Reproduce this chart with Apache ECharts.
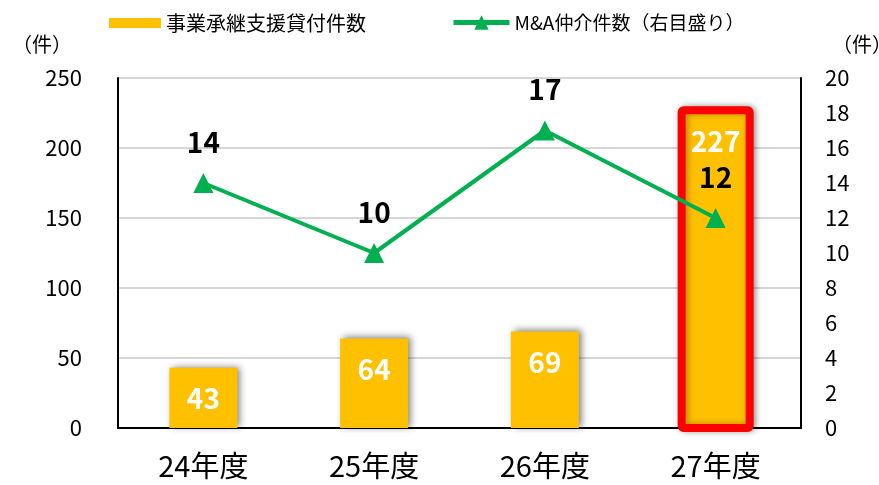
<!DOCTYPE html>
<html lang="ja">
<head>
    <meta charset="UTF-8">
    <title>事業承継支援貸付件数</title>
    <script src="https://cdn.jsdelivr.net/npm/echarts/dist/echarts.min.js"></script>
    <style>
        body { margin: 0; background: #fff; }
    </style>
</head>
<body>
<div id="chart1" style="width: 879px;height:485px;"></div>
<script type="text/javascript">
    var categories = ['24年度', '25年度', '26年度', '27年度'];
    var loanCounts = [43, 64, 69, 227];
    var maCounts = [14, 10, 17, 12];
    var barName = '事業承継支援貸付件数';
    var lineName = 'M&A仲介件数（右目盛り）';
    var highlightIndex = 3;

    var FONT = '"Noto Sans CJK JP", "Noto Sans", sans-serif';
    var BAR_W = 68;
    var chart1 = echarts.init(document.getElementById('chart1'));

    var option = {
        backgroundColor: '#fff',
        textStyle: { fontFamily: FONT },
        legend: [{
            data: [{ name: barName, icon: 'rect' }],
            left: 104,
            top: 8,
            itemWidth: 52,
            itemHeight: 10,
            textStyle: { fontSize: 20, color: '#000', fontFamily: FONT }
        }, {
            data: [{
                name: lineName,
                lineStyle: { width: 5, color: '#00b050' },
                itemStyle: { color: '#00b050' }
            }],
            left: 446,
            top: 8,
            itemWidth: 56,
            itemHeight: 18,
            lineStyle: { width: 5 },
            textStyle: { fontSize: 19, color: '#000', fontFamily: FONT }
        }],
        graphic: [{
            type: 'text', left: 12, top: 34,
            style: { text: '（件）', font: '20px ' + FONT, fill: '#000' }
        }, {
            type: 'text', left: 832, top: 34,
            style: { text: '（件）', font: '20px ' + FONT, fill: '#000' }
        }],
        grid: { left: 118, right: 78, top: 78, bottom: 57 },
        xAxis: {
            type: 'category',
            data: categories,
            axisTick: { show: false },
            axisLine: { lineStyle: { color: '#000', width: 2 } },
            axisLabel: { fontSize: 29, color: '#000', margin: 23, fontFamily: FONT }
        },
        yAxis: [{
            type: 'value',
            min: 0, max: 250, interval: 50,
            axisLine: { show: true, lineStyle: { color: '#000', width: 2 } },
            axisTick: { show: false },
            splitLine: { lineStyle: { color: '#c8c8c8', width: 1.5 } },
            axisLabel: { fontSize: 22, color: '#000', margin: 36, fontFamily: FONT }
        }, {
            type: 'value',
            min: 0, max: 20, interval: 2,
            axisLine: { show: true, lineStyle: { color: '#000', width: 2 } },
            axisTick: { show: false },
            splitLine: { show: false },
            axisLabel: { fontSize: 22, color: '#000', margin: 24, fontFamily: FONT }
        }],
        series: [{
            name: barName,
            type: 'bar',
            data: loanCounts,
            barWidth: BAR_W,
            itemStyle: {
                color: '#ffc000',
                shadowColor: 'rgba(0,0,0,0.5)',
                shadowBlur: 7,
                shadowOffsetX: 3,
                shadowOffsetY: -1
            },
            label: {
                show: true,
                position: 'insideTop',
                distance: 17,
                color: '#fff',
                fontSize: 28,
                fontWeight: 'bold',
                fontFamily: FONT
            },
            z: 2
        }, {
            // red frame round the highlighted bar
            type: 'custom',
            data: [[highlightIndex, loanCounts[highlightIndex]]],
            renderItem: function (params, api) {
                var top = api.coord([api.value(0), api.value(1)]);
                var bottom = api.coord([api.value(0), 0]);
                return {
                    type: 'rect',
                    shape: { x: top[0] - BAR_W / 2, y: top[1], width: BAR_W, height: bottom[1] - top[1], r: 2 },
                    style: {
                        fill: 'none',
                        stroke: '#ff0000',
                        lineWidth: 8,
                        lineJoin: 'round',
                        shadowColor: 'rgba(0,0,0,0.3)',
                        shadowBlur: 6,
                        shadowOffsetX: 2
                    }
                };
            },
            silent: true,
            z: 3
        }, {
            name: lineName,
            type: 'line',
            yAxisIndex: 1,
            data: maCounts,
            symbol: 'triangle',
            symbolSize: 20,
            lineStyle: { color: '#00b050', width: 4 },
            itemStyle: { color: '#00b050' },
            label: {
                show: true,
                position: 'top',
                distance: 17,
                color: '#000',
                fontSize: 28,
                fontWeight: 'bold',
                fontFamily: FONT
            },
            z: 4
        }]
    };
    chart1.setOption(option);
</script>
</body>
</html>
